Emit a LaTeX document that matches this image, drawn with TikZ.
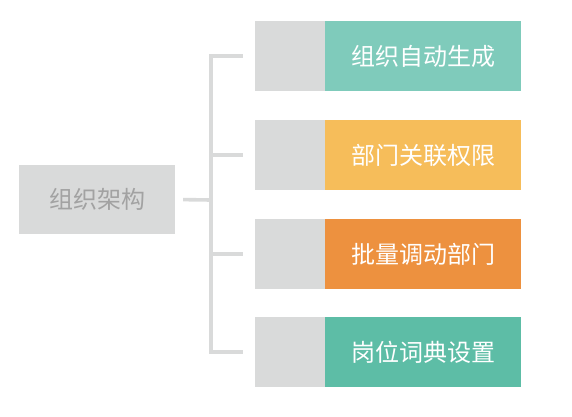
\documentclass[tikz,border=0pt]{standalone}
\usepackage{fontspec}
\newfontfamily\cjk{Noto Sans CJK SC}
\usetikzlibrary{calc}
\definecolor{boxgray}{HTML}{D9DADA}
\definecolor{textgray}{HTML}{A2A2A2}
\definecolor{mint}{HTML}{7FCBBB}
\definecolor{sand}{HTML}{F6BD5A}
\definecolor{tangerine}{HTML}{ED913F}
\definecolor{jade}{HTML}{5DBDA6}
\tikzset{
  orgbox/.style={fill=boxgray, minimum width=156pt, minimum height=69pt, inner sep=0pt, text=textgray, font=\cjk\fontsize{24}{24}\selectfont},
  tab/.style={fill=boxgray, minimum width=70pt, minimum height=70pt, inner sep=0pt},
  item/.style={fill=#1, minimum width=196pt, minimum height=70pt, inner sep=0pt, text=white, font=\cjk\fontsize{24}{24}\selectfont},
  link/.style={draw=boxgray, line width=3.6pt}
}

\begin{document}
\begin{tikzpicture}[x=1pt, y=-1pt]
                        \useasboundingbox (0,0) rectangle (572,416);
                        \node[orgbox] (org) at (97,199.5) {组织架构};
                        \node[tab] (t1) at (290,56) {};
                        \node[tab] (t2) at (290,155) {};
                        \node[tab] (t3) at (290,254) {};
                        \node[tab] (t4) at (290,352) {};
                        \node[item=mint] (i1) at (423,56) {组织自动生成};
                        \node[item=sand] (i2) at (423,155) {部门关联权限};
                        \node[item=tangerine] (i3) at (423,254) {批量调动部门};
                        \node[item=jade] (i4) at (423,352) {岗位词典设置};
                        \coordinate (bus) at (211,200);
                        \draw[link, shorten <=8pt] (org.east) -- (bus);
                        \draw[link, line cap=rect] (bus |- t1) -- (bus |- t4);
                        \draw[link, shorten >=12pt] (bus |- t1) -- (t1.west);
                        \draw[link, shorten >=12pt] (bus |- t2) -- (t2.west);
                        \draw[link, shorten >=12pt] (bus |- t3) -- (t3.west);
                        \draw[link, shorten >=12pt] (bus |- t4) -- (t4.west);
                    \end{tikzpicture}
\end{document}
